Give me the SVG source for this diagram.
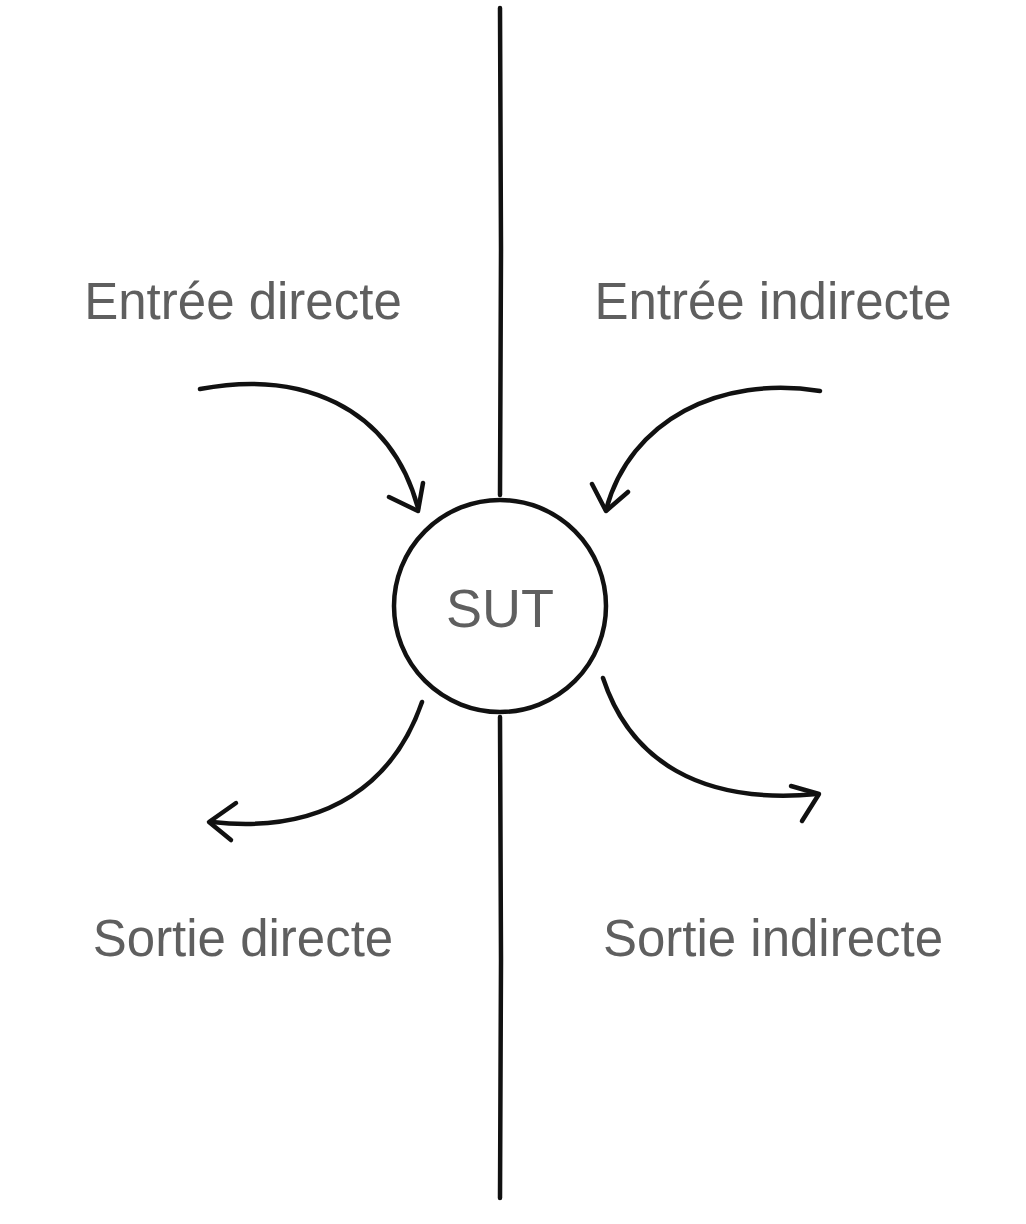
<svg xmlns="http://www.w3.org/2000/svg" width="1026" height="1224" viewBox="0 0 1026 1224">
<style>
.lbl{font-family:"Liberation Sans",Arial,sans-serif;font-size:51px;fill:#5f5f5f;text-anchor:middle}
.ink{fill:none;stroke:#111;stroke-width:4.5;stroke-linecap:round;stroke-linejoin:round}
</style>
<rect width="1026" height="1224" fill="#fff"/>
<g id="divider">
<path class="ink" d="M500,8 L501,250 L500,495" stroke-width="3.5"/>
<path class="ink" d="M500,717 L501,960 L500,1198" stroke-width="3.5"/>
</g>
<g id="sut">
<circle class="ink" cx="500" cy="606" r="106" stroke-width="4.5"/>
<text class="lbl" x="500" y="627" style="font-size:54px">SUT</text>
</g>
<g id="entree-directe"><text class="lbl" x="243" y="319">Entrée directe</text></g>
<g id="entree-indirecte"><text class="lbl" x="773" y="319">Entrée indirecte</text></g>
<g id="sortie-directe"><text class="lbl" x="243" y="956">Sortie directe</text></g>
<g id="sortie-indirecte"><text class="lbl" x="773" y="956">Sortie indirecte</text></g>
<g id="connectors">
<path class="ink" d="M200,389 C300,370 390,405 418,508"/>
<path class="ink" d="M423,483 L418,511 L389,497"/>
<path class="ink" d="M820,391 C720,375 630,420 606,510"/>
<path class="ink" d="M592,484 L606,511 L628,492"/>
<path class="ink" d="M422,702 C395,780 330,835 212,822"/>
<path class="ink" d="M236,803 L209,822 L231,840"/>
<path class="ink" d="M603,678 C630,760 700,805 817,794"/>
<path class="ink" d="M791,786 L819,794 L802,821"/>
</g>
</svg>
